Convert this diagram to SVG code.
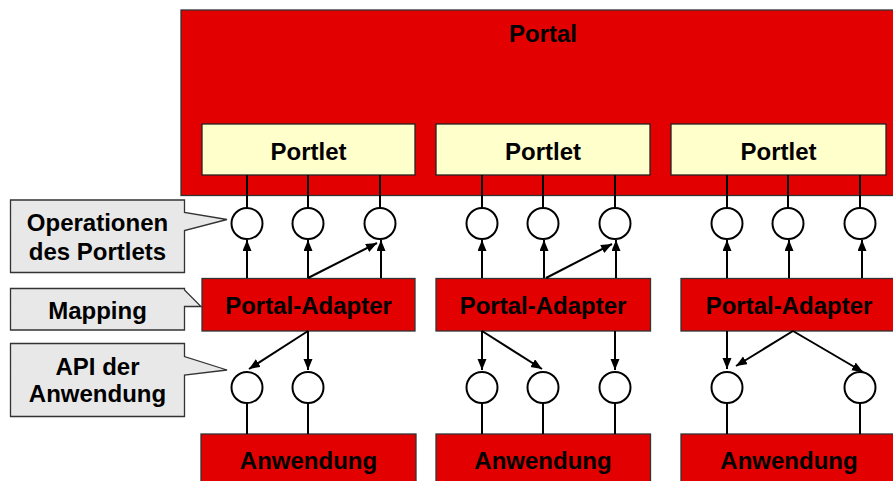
<svg xmlns="http://www.w3.org/2000/svg" width="893" height="481" viewBox="0 0 893 481">
  <defs>
    <marker id="arrow" markerUnits="userSpaceOnUse" markerWidth="12" markerHeight="10" refX="11" refY="4.5" orient="auto">
      <path d="M0,0 L11,4.5 L0,9 Z" fill="#000"/>
    </marker>
    <style>
      .red { fill: #e30000; stroke: #333; stroke-width: 1.3; }
      .portlet { fill: #ffffcc; stroke: #222; stroke-width: 1.3; }
      .callout { fill: #e8e8e8; stroke: #333; stroke-width: 1.3; }
      .port { fill: #fff; stroke: #000; stroke-width: 2; }
      .wire { stroke: #000; stroke-width: 2; fill: none; }
      .flow { stroke: #000; stroke-width: 2; fill: none; marker-end: url(#arrow); }
      text { font-family: "Liberation Sans", Arial, sans-serif; font-weight: bold; font-size: 24px; fill: #000; text-anchor: middle; }
    </style>
  </defs>

  <rect width="893" height="481" fill="#fff"/>

  <!-- Portal container -->
  <g id="portal">
    <rect class="red" x="181" y="10" width="730" height="185.5"/>
    <text x="543" y="41.5">Portal</text>
  </g>

  <!-- Portlets -->
  <g id="portlet1">
    <rect class="portlet" x="202" y="124" width="213" height="51"/>
    <text x="308.5" y="159.5">Portlet</text>
  </g>
  <g id="portlet2">
    <rect class="portlet" x="436" y="124" width="214" height="51"/>
    <text x="543" y="159.5">Portlet</text>
  </g>
  <g id="portlet3">
    <rect class="portlet" x="671" y="124" width="215" height="51"/>
    <text x="778.5" y="159.5">Portlet</text>
  </g>

  <!-- Portal adapters -->
  <g id="adapter1">
    <rect class="red" x="202" y="278.5" width="213" height="52.5"/>
    <text x="308.5" y="313.5">Portal-Adapter</text>
  </g>
  <g id="adapter2">
    <rect class="red" x="436" y="278.5" width="214.5" height="52.5"/>
    <text x="543" y="313.5">Portal-Adapter</text>
  </g>
  <g id="adapter3">
    <rect class="red" x="681" y="278.5" width="216" height="52.5"/>
    <text x="789" y="313.5">Portal-Adapter</text>
  </g>

  <!-- Applications -->
  <g id="app1">
    <rect class="red" x="201" y="434" width="215" height="60"/>
    <text x="308.5" y="468.5">Anwendung</text>
  </g>
  <g id="app2">
    <rect class="red" x="436" y="434" width="214.5" height="60"/>
    <text x="543" y="468.5">Anwendung</text>
  </g>
  <g id="app3">
    <rect class="red" x="681" y="434" width="216" height="60"/>
    <text x="789" y="468.5">Anwendung</text>
  </g>

  <!-- Callouts -->
  <g id="callout-operations">
    <path class="callout" d="M10.5,200 H184.5 V212.5 L227,219.5 L184.5,230.5 V272.5 H10.5 Z"/>
    <text x="97.5" y="231">Operationen</text>
    <text x="97.5" y="259.5">des Portlets</text>
  </g>
  <g id="callout-mapping">
    <path class="callout" d="M10.5,288.5 H184.5 V290 L201,306.5 L184.5,306.5 V330 H10.5 Z"/>
    <text x="97.5" y="318.5">Mapping</text>
  </g>
  <g id="callout-api">
    <path class="callout" d="M10.5,343.5 H184.5 V356.5 L227,370 L184.5,375 V416.5 H10.5 Z"/>
    <text x="97.5" y="374.5">API der</text>
    <text x="97.5" y="402">Anwendung</text>
  </g>

  <!-- Connectors -->
  <g id="connectors">
    <!-- portlet to operation ports -->
    <path class="wire" d="M247,175 V208 M308,175 V208 M380,175 V208 M482,175 V208 M543,175 V208 M615,175 V208 M727,175 V208 M788,175 V208 M860,175 V208"/>
    <!-- application ports to applications -->
    <path class="wire" d="M247,403 V434 M308,403 V434 M482,403 V434 M543,403 V434 M615,403 V434 M727,403 V434 M860,403 V434"/>

    <!-- adapter 1 -->
    <line class="flow" x1="247" y1="278" x2="247" y2="240"/>
    <line class="flow" x1="308" y1="278" x2="308" y2="240"/>
    <line class="flow" x1="308" y1="278" x2="377" y2="243"/>
    <line class="flow" x1="381" y1="278" x2="381" y2="240"/>
    <line class="flow" x1="308" y1="331" x2="249" y2="369"/>
    <line class="flow" x1="308" y1="331" x2="308" y2="370"/>

    <!-- adapter 2 -->
    <line class="flow" x1="482" y1="278" x2="482" y2="240"/>
    <line class="flow" x1="544" y1="278" x2="544" y2="240"/>
    <line class="flow" x1="546" y1="278" x2="612" y2="244"/>
    <line class="flow" x1="616" y1="278" x2="616" y2="240"/>
    <line class="flow" x1="482" y1="331" x2="482" y2="370"/>
    <line class="flow" x1="482" y1="331" x2="542" y2="369"/>
    <line class="flow" x1="615" y1="331" x2="615" y2="370"/>

    <!-- adapter 3 -->
    <line class="flow" x1="727" y1="278" x2="727" y2="240"/>
    <line class="flow" x1="789" y1="278" x2="789" y2="240"/>
    <line class="flow" x1="862" y1="278" x2="862" y2="240"/>
    <line class="flow" x1="727" y1="331" x2="727" y2="369"/>
    <line class="flow" x1="793" y1="331" x2="736" y2="366"/>
    <line class="flow" x1="793" y1="331" x2="863" y2="372"/>
  </g>

  <!-- Ports -->
  <g id="ports">
    <circle class="port" cx="247" cy="223.5" r="15.5"/>
    <circle class="port" cx="308" cy="223.5" r="15.5"/>
    <circle class="port" cx="380" cy="223.5" r="15.5"/>
    <circle class="port" cx="482" cy="223.5" r="15.5"/>
    <circle class="port" cx="543" cy="223.5" r="15.5"/>
    <circle class="port" cx="615" cy="223.5" r="15.5"/>
    <circle class="port" cx="727" cy="223.5" r="15.5"/>
    <circle class="port" cx="788" cy="223.5" r="15.5"/>
    <circle class="port" cx="860" cy="223.5" r="15.5"/>

    <circle class="port" cx="247" cy="387.5" r="15.5"/>
    <circle class="port" cx="308" cy="387.5" r="15.5"/>
    <circle class="port" cx="482" cy="387.5" r="15.5"/>
    <circle class="port" cx="543" cy="387.5" r="15.5"/>
    <circle class="port" cx="615" cy="387.5" r="15.5"/>
    <circle class="port" cx="727" cy="387.5" r="15.5"/>
    <circle class="port" cx="860" cy="387.5" r="15.5"/>
  </g>
</svg>
